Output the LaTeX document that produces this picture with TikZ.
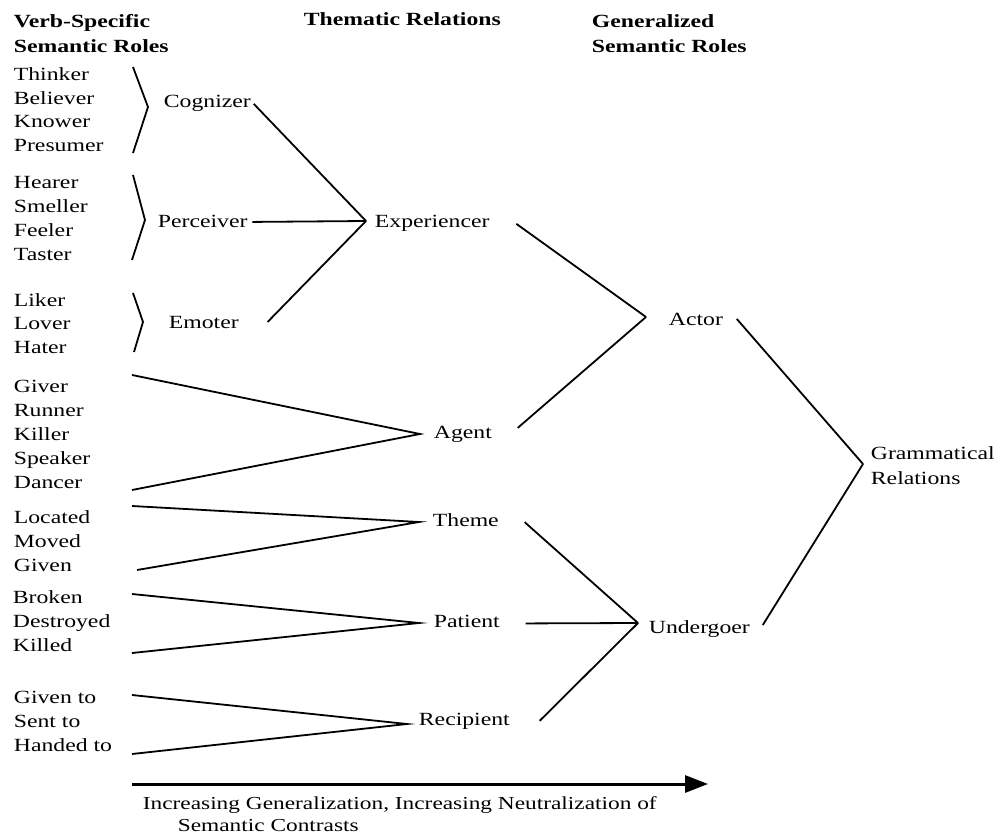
\documentclass[tikz,border=0pt]{standalone}
\usepackage{fontspec}
\setmainfont{Liberation Serif}[FakeStretch=1.275]
\usetikzlibrary{arrows.meta}

\begin{document}
\begin{tikzpicture}[x=1pt,y=-1pt,line width=1.8pt,
  every node/.style={inner sep=0pt,font=\fontsize{18.6}{23.8}\selectfont},
  head/.style={anchor=north west,align=left,font=\fontsize{18.6}{25}\selectfont\bfseries},
  roles/.style={anchor=west,align=left},
  role/.style={anchor=base west}]
\useasboundingbox (0,0) rectangle (994,837);

% column headings
\node[head] (vsr) at (13,14) {Verb-Specific\\Semantic Roles};
\node[head,anchor=base west] (thr) at (303,26) {Thematic Relations};
\node[head] (gsr) at (591,13.5) {Generalized\\Semantic Roles};

% verb-specific roles
\node[roles] (cogs) at (13,109.7) {Thinker\\Believer\\Knower\\Presumer};
\node[roles] (pers) at (13,218.5) {Hearer\\Smeller\\Feeler\\Taster};
\node[roles] (emos) at (13,323.5) {Liker\\Lover\\Hater};
\node[roles] (agts) at (13,434.5) {Giver\\Runner\\Killer\\Speaker\\Dancer};
\node[roles] (thms) at (13,541) {Located\\Moved\\Given};
\node[roles] (pats) at (12,621) {Broken\\Destroyed\\Killed};
\node[roles] (recs) at (13,721.7) {Given to\\Sent to\\Handed to};

% thematic relations
\node[role] (cog) at (163,108) {Cognizer};
\node[role] (per) at (157,228) {Perceiver};
\node[role] (emo) at (168,328) {Emoter};
\node[role] (exp) at (374,228) {Experiencer};
\node[role] (agt) at (433,438) {Agent};
\node[role] (thm) at (432,526) {Theme};
\node[role] (pat) at (433,627) {Patient};
\node[role] (rec) at (418,725) {Recipient};

% generalized roles
\node[role] (act) at (668,325) {Actor};
\node[role] (und) at (648,633) {Undergoer};
\node[head,font=\fontsize{18.6}{25.5}\selectfont] (gr) at (870,445.5) {Grammatical\\Relations};

% meeting points
\coordinate (expv) at (366,221);
\coordinate (agtv) at (420,434);
\coordinate (thmv) at (419,522);
\coordinate (patv) at (419,623);
\coordinate (recv) at (407,724);
\coordinate (actv) at (646,317);
\coordinate (undv) at (638,623);
\coordinate (grv) at (863,464);

% brackets round the lists
\draw (133,67) -- (148,107) -- (133,153);
\draw (133,175) -- (145,220) -- (132,260);
\draw (133,293) -- (143,322) -- (134,352);
\draw (132,375) -- (agtv) -- (132,490);
\draw (132,506) -- (thmv) -- (137,570);
\draw (132,594) -- (patv) -- (132,653);
\draw (132,695) -- (recv) -- (132,754);

% thematic -> generalized
\draw ([xshift=2pt]cog.east) -- (expv);
\draw ([xshift=4pt]per.east) -- (expv);
\draw ([xshift=28pt]emo.east) -- (expv);
\draw ([xshift=26pt]exp.east) -- (actv);
\draw ([xshift=25pt,yshift=6pt]agt.east) -- (actv);
\draw ([xshift=25pt,yshift=-2.5pt]thm.east) -- (undv);
\draw ([xshift=25pt,yshift=-2.5pt]pat.east) -- (undv);
\draw ([xshift=29pt]rec.east) -- (undv);
\draw ([xshift=13pt]act.east) -- (grv);
\draw ([xshift=12pt,yshift=3.5pt]und.east) -- (grv);

% generalization arrow
\coordinate (arrS) at (132,784);
\coordinate (arrE) at (708,784);
\draw[line width=3pt,-{Triangle[length=23pt,width=17pt]}] (arrS) -- (arrE);
\node[anchor=north west,align=left,font=\fontsize{18.3}{22}\selectfont] (cap) at (142,795.3)
  {Increasing Generalization, Increasing Neutralization of\\\hspace*{35pt}Semantic Contrasts};
\end{tikzpicture}
\end{document}
